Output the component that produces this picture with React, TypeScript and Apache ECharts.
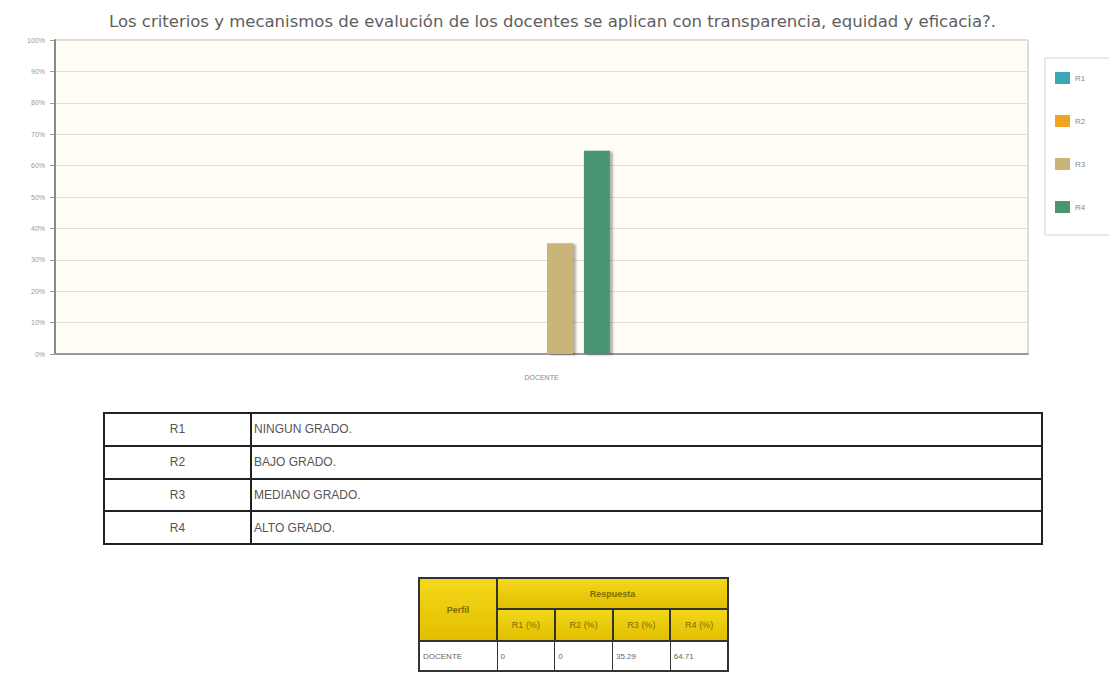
import React, { useEffect, useRef } from "react";
import * as echarts from "echarts";

const title = "Los criterios y mecanismos de evalución de los docentes se aplican con transparencia, equidad y eficacia?.";
const categories = ["DOCENTE"];
const seriesNames = ["R1", "R2", "R3", "R4"];
const r1Values = [0];
const r2Values = [0];
const r3Values = [35.29];
const r4Values = [64.71];
const seriesColors = ["#3aa7b3", "#f0a424", "#c9b479", "#4a9573"];
const yTicks = { min: 0, max: 100, interval: 10 };

const legendRows = [
  ["R1", "NINGUN GRADO."],
  ["R2", "BAJO GRADO."],
  ["R3", "MEDIANO GRADO."],
  ["R4", "ALTO GRADO."],
];
const profileRow = ["DOCENTE", "0", "0", "35.29", "64.71"];

export default function App() {
  const ref = useRef<HTMLDivElement>(null);
  useEffect(() => {
    if (!ref.current) return;
    const chart = echarts.init(ref.current, null, { renderer: "svg" });
    const values = [r1Values, r2Values, r3Values, r4Values];
    chart.setOption({
      animation: false,
      title: {
        text: title,
        left: 104,
        top: 8,
        textStyle: { fontFamily: "DejaVu Sans", fontSize: 16.5, fontWeight: "normal", color: "#5e5e5e" },
      },
      legend: {
        orient: "vertical",
        left: 1045,
        top: 58,
        padding: [14, 30, 22, 10],
        itemGap: 31,
        itemWidth: 15,
        itemHeight: 12,
        icon: "rect",
        backgroundColor: "#fff",
        borderColor: "#d4d4d4",
        borderWidth: 1,
        textStyle: { fontSize: 8, color: "#888", fontFamily: "Liberation Sans" },
        data: seriesNames,
      },
      grid: {
        left: 55,
        right: 81,
        top: 40,
        bottom: 41,
        show: true,
        backgroundColor: "#fffdf6",
        borderColor: "#bbb",
        borderWidth: 1,
      },
      xAxis: {
        type: "category",
        data: categories,
        axisLine: { lineStyle: { color: "#999", width: 2 } },
        axisTick: { show: false },
        axisLabel: { fontSize: 7, color: "#888", margin: 20, fontFamily: "Liberation Sans" },
      },
      yAxis: {
        type: "value",
        min: yTicks.min,
        max: yTicks.max,
        interval: yTicks.interval,
        axisLine: { show: true, lineStyle: { color: "#888", width: 2 } },
        axisTick: { show: true, length: 5, lineStyle: { color: "#999" } },
        axisLabel: { formatter: "{value}%", fontSize: 7, color: "#999", margin: 10, fontFamily: "Liberation Sans" },
        splitLine: { lineStyle: { color: "#e2dfd2", width: 1 } },
      },
      series: seriesNames.map((name, i) => ({
        name,
        type: "bar",
        data: values[i],
        barWidth: 26,
        barGap: "42%",
        itemStyle: {
          color: seriesColors[i],
          shadowColor: "rgba(0,0,0,0.3)",
          shadowOffsetX: 3,
          shadowOffsetY: 1,
          shadowBlur: 2,
        },
      })),
    });
    return () => chart.dispose();
  }, []);

  const cellBorder = "2px solid #222";
  const yellow = "linear-gradient(#f3d81a, #e2be00)";
  const headText = { color: "#7d6d00", fontSize: 9, fontFamily: "Liberation Sans", fontWeight: "bold" as const };
  const dataCell = { border: "1px solid #333", fontSize: 8, color: "#666", fontFamily: "Liberation Sans", padding: "0 3px", background: "#fff" };

  return (
    <div style={{ position: "absolute", left: 0, top: 0, width: 1109, height: 675, background: "#fff" }}>
      <div ref={ref} style={{ position: "absolute", left: 0, top: 0, width: 1109, height: 395 }} />
      <table
        style={{
          position: "absolute",
          left: 103,
          top: 412,
          width: 940,
          height: 133,
          borderCollapse: "collapse",
          border: cellBorder,
          fontFamily: "Liberation Sans",
          fontSize: 12,
          color: "#555",
        }}
      >
        <tbody>
          {legendRows.map((r) => (
            <tr key={r[0]}>
              <td style={{ border: cellBorder, width: 143, textAlign: "center" }}>{r[0]}</td>
              <td style={{ border: cellBorder, paddingLeft: 2 }}>{r[1]}</td>
            </tr>
          ))}
        </tbody>
      </table>
      <table
        style={{
          position: "absolute",
          left: 418,
          top: 577,
          width: 311,
          height: 95,
          borderCollapse: "collapse",
          border: "2px solid #333",
        }}
      >
        <tbody>
          <tr style={{ height: 31 }}>
            <td rowSpan={2} style={{ ...headText, background: yellow, border: "2px solid #333", width: 74, textAlign: "center" }}>
              Perfil
            </td>
            <td colSpan={4} style={{ ...headText, background: yellow, border: "2px solid #333", textAlign: "center" }}>
              Respuesta
            </td>
          </tr>
          <tr style={{ height: 32 }}>
            {seriesNames.map((n) => (
              <td key={n} style={{ ...headText, fontWeight: "normal", background: yellow, border: "2px solid #333", textAlign: "center", padding: 0 }}>
                {n} (%)
              </td>
            ))}
          </tr>
          <tr>
            {profileRow.map((v, i) => (
              <td key={i} style={{ ...dataCell, textAlign: "left" }}>
                {v}
              </td>
            ))}
          </tr>
        </tbody>
      </table>
    </div>
  );
}
